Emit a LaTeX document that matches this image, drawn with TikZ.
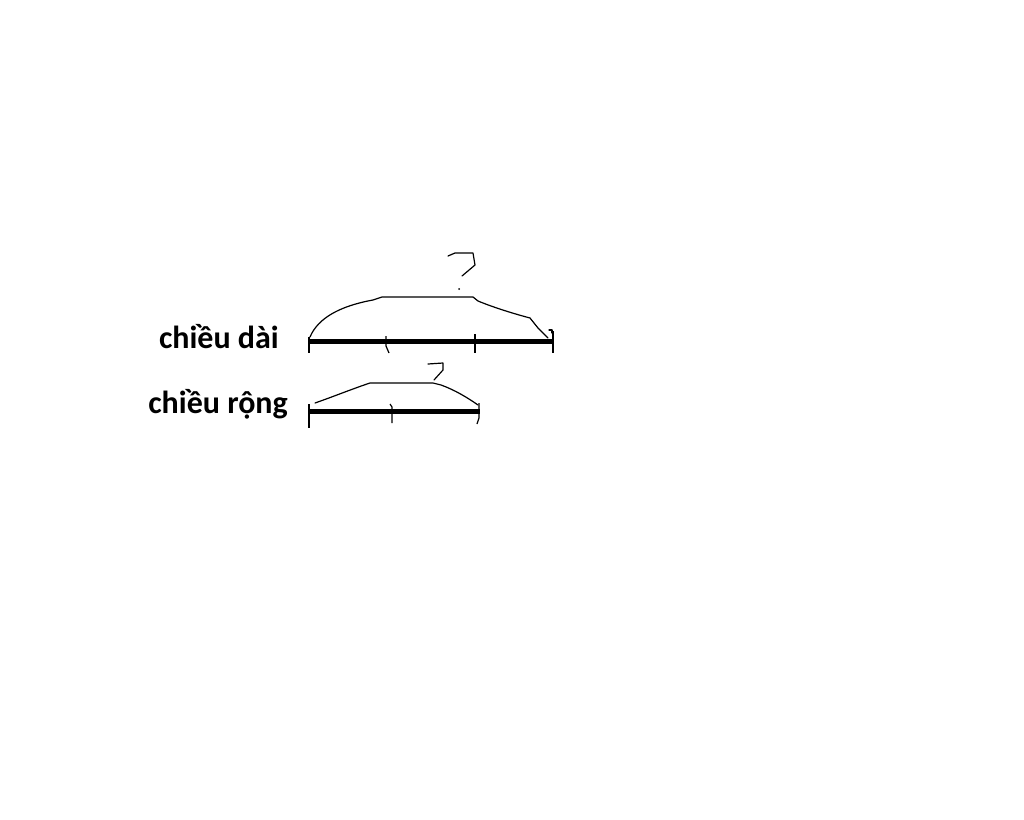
\documentclass[tikz,border=0pt]{standalone}
\usepackage{fontspec}
\setmainfont{Carlito}
\begin{document}
\begin{tikzpicture}[x=1pt,y=-1pt,
  bar/.style={line width=4.8pt},
  tickmark/.style={line width=1.2pt},
  pen/.style={line width=1.2pt, line join=round, line cap=round},
  lbl/.style={font=\fontsize{32}{36}\selectfont\bfseries, inner sep=0pt, anchor=base east}]
\useasboundingbox[fill=white] (0,0) rectangle (1024,819);
% labels
\node[lbl] (dai) at (279,348) {chiều dài};
\node[lbl] (rong) at (288,413) {chiều rộng};
% top segment
\coordinate (a0) at (309,341.5);
\coordinate (a3) at (553,341.5);
\draw[bar] (a0) -- (a3);
\draw[tickmark] (309,337) -- (309,353);
\draw[tickmark] (386,336) -- (386,346) -- (389,353);
\draw[tickmark] (475,334) -- (475,353);
\draw[tickmark] (553,331) -- (553,353);
\draw[pen] (310,337) .. controls (318,318) and (340,306) .. (373,300) -- (382,297) -- (473,297) -- (478,301)
  .. controls (495,308) and (515,314) .. (530,318) -- (538,328) -- (548,338);
\draw[pen] (549,330) -- (552,330) -- (552,333);
% question mark top
\draw[pen] (448,256) -- (455,253) -- (473,253) -- (475,265) -- (462,276);
\fill (459,289) circle (1pt);
% bottom segment
\coordinate (b0) at (309,411.5);
\coordinate (b2) at (480,411.5);
\draw[bar] (b0) -- (b2);
\draw[tickmark] (309,404) -- (309,428);
\draw[tickmark] (390,404) -- (392,407) -- (392,423);
\draw[tickmark] (479,403) -- (479,418) -- (477,424);
\draw[pen] (315,403) .. controls (335,396) and (352,389) .. (370,383) -- (433,383) -- (441,385)
  .. controls (455,390) and (468,398) .. (478,405);
% question mark bottom
\draw[pen] (428,364) -- (443,363) -- (443,370) -- (434,380);
\end{tikzpicture}
\end{document}
